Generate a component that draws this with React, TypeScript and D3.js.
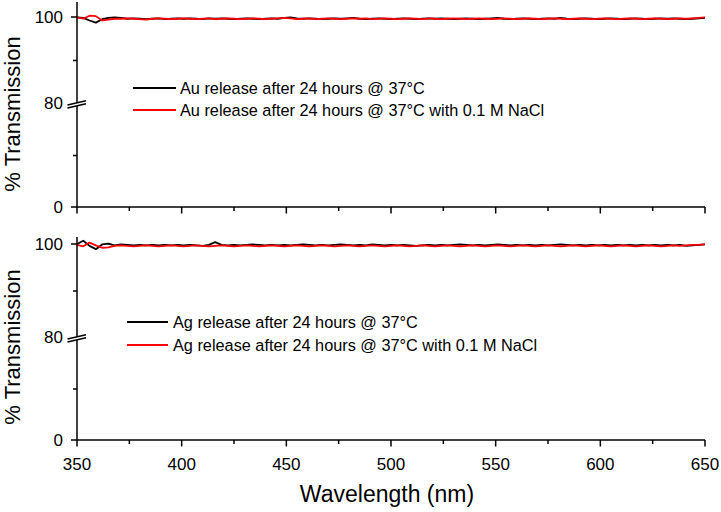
import React, { useEffect, useRef } from 'react';
import * as d3 from 'd3';

// sampled every 3 nm
const wavelengths = [
  350, 353, 356, 359, 362, 365, 368, 371, 374, 377,
  380, 383, 386, 389, 392, 395, 398, 401, 404, 407,
  410, 413, 416, 419, 422, 425, 428, 431, 434, 437,
  440, 443, 446, 449, 452, 455, 458, 461, 464, 467,
  470, 473, 476, 479, 482, 485, 488, 491, 494, 497,
  500, 503, 506, 509, 512, 515, 518, 521, 524, 527,
  530, 533, 536, 539, 542, 545, 548, 551, 554, 557,
  560, 563, 566, 569, 572, 575, 578, 581, 584, 587,
  590, 593, 596, 599, 602, 605, 608, 611, 614, 617,
  620, 623, 626, 629, 632, 635, 638, 641, 644, 647,
  650,
];

const auWater = [
  99.9, 99.8, 99.2, 98.7, 99.5, 99.8, 99.9, 99.8, 99.6, 99.7,
  99.6, 99.5, 99.6, 99.7, 99.5, 99.6, 99.7, 99.6, 99.7, 99.6,
  99.5, 99.7, 99.6, 99.7, 99.6, 99.5, 99.6, 99.7, 99.6, 99.5,
  99.6, 99.7, 99.6, 99.8, 99.9, 99.7, 99.6, 99.7, 99.6, 99.5,
  99.6, 99.7, 99.6, 99.7, 99.8, 99.6, 99.5, 99.6, 99.7, 99.6,
  99.5, 99.6, 99.7, 99.6, 99.5, 99.6, 99.7, 99.6, 99.7, 99.6,
  99.5, 99.6, 99.7, 99.6, 99.5, 99.6, 99.7, 99.8, 99.6, 99.5,
  99.6, 99.7, 99.6, 99.5, 99.6, 99.7, 99.6, 99.8, 99.6, 99.5,
  99.6, 99.7, 99.6, 99.5, 99.6, 99.7, 99.6, 99.5, 99.6, 99.7,
  99.6, 99.5, 99.6, 99.7, 99.6, 99.7, 99.6, 99.5, 99.6, 99.7,
  99.8,
];

const auNaCl = [
  99.9, 99.6, 100.3, 100.2, 99.2, 99.4, 99.6, 99.6, 99.7, 99.6,
  99.5, 99.4, 99.6, 99.7, 99.6, 99.5, 99.6, 99.7, 99.6, 99.5,
  99.6, 99.7, 99.5, 99.6, 99.7, 99.6, 99.5, 99.6, 99.7, 99.6,
  99.5, 99.6, 99.7, 99.8, 99.7, 99.5, 99.6, 99.7, 99.5, 99.6,
  99.7, 99.6, 99.5, 99.6, 99.7, 99.6, 99.7, 99.5, 99.6, 99.7,
  99.6, 99.5, 99.6, 99.7, 99.6, 99.5, 99.7, 99.6, 99.5, 99.6,
  99.7, 99.6, 99.5, 99.6, 99.7, 99.6, 99.5, 99.6, 99.7, 99.6,
  99.5, 99.6, 99.7, 99.6, 99.5, 99.6, 99.7, 99.6, 99.5, 99.6,
  99.7, 99.6, 99.5, 99.6, 99.7, 99.6, 99.5, 99.6, 99.7, 99.6,
  99.5, 99.6, 99.7, 99.6, 99.5, 99.6, 99.7, 99.6, 99.7, 99.8,
  99.9,
];

const agWater = [
  100.0, 100.7, 99.6, 98.9, 99.9, 100.1, 99.7, 99.9, 99.8, 99.7,
  99.8, 99.7, 99.8, 99.7, 99.8, 99.7, 99.8, 99.7, 99.8, 99.7,
  99.6, 99.8, 100.4, 99.8, 99.7, 99.8, 99.7, 99.8, 99.9, 99.8,
  99.7, 99.8, 99.7, 99.8, 99.7, 99.8, 99.9, 99.8, 99.7, 99.8,
  99.7, 99.8, 99.9, 99.8, 99.7, 99.8, 99.7, 99.9, 99.8, 99.7,
  99.8, 99.7, 99.8, 99.7, 99.6, 99.7, 99.8, 99.7, 99.8, 99.7,
  99.8, 99.9, 99.8, 99.7, 99.8, 99.7, 99.8, 99.9, 99.8, 99.7,
  99.8, 99.7, 99.8, 99.7, 99.8, 99.7, 99.8, 99.9, 99.8, 99.7,
  99.8, 99.7, 99.8, 99.7, 99.8, 99.7, 99.8, 99.7, 99.8, 99.7,
  99.8, 99.7, 99.8, 99.7, 99.8, 99.7, 99.8, 99.6, 99.7, 99.8,
  99.9,
];

const agNaCl = [
  99.8, 99.5, 100.3, 99.7, 99.2, 99.3, 99.6, 99.7, 99.6, 99.5,
  99.6, 99.7, 99.6, 99.5, 99.6, 99.7, 99.6, 99.5, 99.6, 99.7,
  99.6, 99.5, 99.6, 99.7, 99.6, 99.5, 99.6, 99.7, 99.6, 99.5,
  99.6, 99.7, 99.6, 99.5, 99.6, 99.7, 99.6, 99.5, 99.6, 99.7,
  99.6, 99.5, 99.6, 99.7, 99.6, 99.5, 99.6, 99.7, 99.6, 99.5,
  99.6, 99.7, 99.6, 99.5, 99.6, 99.7, 99.6, 99.5, 99.6, 99.7,
  99.6, 99.5, 99.6, 99.7, 99.6, 99.5, 99.6, 99.7, 99.6, 99.5,
  99.6, 99.7, 99.6, 99.5, 99.6, 99.7, 99.6, 99.5, 99.6, 99.7,
  99.6, 99.5, 99.6, 99.7, 99.6, 99.5, 99.6, 99.7, 99.6, 99.5,
  99.6, 99.7, 99.6, 99.5, 99.6, 99.7, 99.6, 99.7, 99.8, 99.8,
  99.9,
];

const xTicks = [350, 400, 450, 500, 550, 600, 650];
const xMinorTicks = [375, 425, 475, 525, 575, 625];
const yTicks = [0, 100];
const yBreakTick = 80;
const yMinorTicks = [40, 90];

const auLabels = [
  'Au release after 24 hours @ 37°C',
  'Au release after 24 hours @ 37°C with 0.1 M NaCl',
];
const agLabels = [
  'Ag release after 24 hours @ 37°C',
  'Ag release after 24 hours @ 37°C with 0.1 M NaCl',
];
const seriesColors = ['#000000', '#ff0000'];

const FONT = '"Liberation Sans", Arial, sans-serif';

export default function App() {
  const ref = useRef<HTMLDivElement>(null);

  useEffect(() => {
    document.body.style.margin = '0';
    if (!ref.current) return;
    d3.select(ref.current).selectAll('*').remove();

    const width = 721;
    const height = 512;
    const svg = d3.select(ref.current)
      .append('svg')
      .attr('width', width)
      .attr('height', height)
      .style('display', 'block')
      .style('font-family', FONT);

    const x = d3.scaleLinear().domain([350, 650]).range([77, 705]);

    const panels = [
      {
        y: d3.scaleLinear().domain([0, 80, 100]).range([207, 104, 17]),
        axisTop: 2,
        series: [auWater, auNaCl],
        labels: auLabels,
        legend: { x1: 133, x2: 176, tx: 180, y: [88, 110] },
        titleY: 114,
        showXLabels: false,
      },
      {
        y: d3.scaleLinear().domain([0, 80, 100]).range([440, 338, 244]),
        axisTop: 237,
        series: [agWater, agNaCl],
        labels: agLabels,
        legend: { x1: 127, x2: 168, tx: 173, y: [322, 345] },
        titleY: 347,
        showXLabels: true,
      },
    ];

    panels.forEach((p) => {
      const g = svg.append('g');
      const y = p.y;
      const y0 = y(0);

      // data lines
      p.series.forEach((vals, i) => {
        const line = d3.line<number>()
          .x((_, j) => x(wavelengths[j]))
          .y((d) => y(d));
        g.append('path')
          .datum(vals)
          .attr('d', line)
          .attr('fill', 'none')
          .attr('stroke', seriesColors[i])
          .attr('stroke-width', 1.8)
          .attr('stroke-linejoin', 'round');
      });

      // left axis
      g.append('line')
        .attr('x1', x(350)).attr('x2', x(350))
        .attr('y1', p.axisTop).attr('y2', y0)
        .attr('stroke', '#000').attr('stroke-width', 1.5);
      yTicks.forEach((t) => {
        g.append('line')
          .attr('x1', x(350) - 6).attr('x2', x(350))
          .attr('y1', y(t)).attr('y2', y(t))
          .attr('stroke', '#000').attr('stroke-width', 1.5);
      });
      yMinorTicks.forEach((t) => {
        g.append('line')
          .attr('x1', x(350) - 4).attr('x2', x(350))
          .attr('y1', y(t)).attr('y2', y(t))
          .attr('stroke', '#000').attr('stroke-width', 1.5);
      });
      [...yTicks, yBreakTick].forEach((t) => {
        g.append('text')
          .attr('x', 63)
          .attr('y', y(t) - (t === yBreakTick ? 1 : 0))
          .attr('dy', '0.35em')
          .attr('text-anchor', 'end')
          .style('font-size', '17px')
          .text(t);
      });

      // axis break marks
      const yb = y(yBreakTick);
      const bx = x(350);
      const brk = g.append('g').attr('transform', `translate(${bx},${yb})`);
      brk.append('polygon')
        .attr('points', '-9.5,1 9,-3.3 9,-0.3 -9.5,4')
        .attr('fill', '#fff');
      [[1, -3.3], [4, -0.3]].forEach(([a, b]) => {
        brk.append('line')
          .attr('x1', -9.5).attr('y1', a)
          .attr('x2', 9).attr('y2', b)
          .attr('stroke', '#000').attr('stroke-width', 1.4);
      });

      // bottom axis
      g.append('line')
        .attr('x1', x(350)).attr('x2', x(650))
        .attr('y1', y0).attr('y2', y0)
        .attr('stroke', '#000').attr('stroke-width', 1.5);
      xTicks.forEach((t) => {
        g.append('line')
          .attr('x1', x(t)).attr('x2', x(t))
          .attr('y1', y0).attr('y2', y0 + 6.5)
          .attr('stroke', '#000').attr('stroke-width', 1.5);
        if (p.showXLabels) {
          g.append('text')
            .attr('x', x(t))
            .attr('y', y0 + 30)
            .attr('text-anchor', 'middle')
            .style('font-size', '17px')
            .text(t);
        }
      });
      xMinorTicks.forEach((t) => {
        g.append('line')
          .attr('x1', x(t)).attr('x2', x(t))
          .attr('y1', y0).attr('y2', y0 + 4)
          .attr('stroke', '#000').attr('stroke-width', 1.5);
      });

      // y title
      g.append('text')
        .attr('transform', `translate(20,${p.titleY}) rotate(-90)`)
        .attr('text-anchor', 'middle')
        .style('font-size', '22px')
        .text('% Transmission');

      // legend
      p.labels.forEach((lab, i) => {
        const ly = p.legend.y[i];
        g.append('line')
          .attr('x1', p.legend.x1).attr('x2', p.legend.x2)
          .attr('y1', ly).attr('y2', ly)
          .attr('stroke', seriesColors[i]).attr('stroke-width', 2);
        g.append('text')
          .attr('x', p.legend.tx)
          .attr('y', ly)
          .attr('dy', '0.35em')
          .style('font-size', '16.3px')
          .text(lab);
      });
    });

    svg.append('text')
      .attr('x', 387)
      .attr('y', 502)
      .attr('text-anchor', 'middle')
      .style('font-size', '23px')
      .text('Wavelength (nm)');
  }, []);

  return <div ref={ref}></div>;
}
